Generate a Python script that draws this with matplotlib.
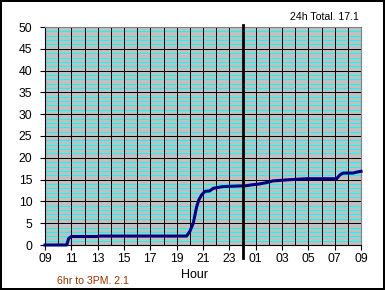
import matplotlib.pyplot as plt

plt.rcParams['font.family'] = ['Liberation Sans', 'DejaVu Sans']

# hours since 09:00, cumulative rain
hours = [0, 1.65, 1.8, 2.0, 4.0, 4.05, 10.75, 11.0, 11.26, 11.39, 11.52, 11.69,
         11.9, 12.15, 12.5, 12.78, 13.5, 15.3, 15.7, 16.3, 16.95, 17.3, 18.45,
         19.85, 22.15, 22.4, 22.65, 23.4, 23.65, 24]
rain = [0, 0, 1.5, 1.95, 1.95, 2.05, 2.05, 3.1, 5.0, 6.9, 8.8, 10.4,
        11.5, 12.3, 12.4, 13.0, 13.4, 13.6, 13.8, 14.0, 14.4, 14.7, 14.95,
        15.2, 15.2, 16.1, 16.5, 16.5, 16.7, 16.9]

tick_pos = list(range(0, 25, 2))
tick_labels = ['09', '11', '13', '15', '17', '19', '21', '23',
               '01', '03', '05', '07', '09']
midnight = 15

fig = plt.figure(figsize=(3.85, 2.9), dpi=100)
fig.patch.set_edgecolor('black')
fig.patch.set_linewidth(1.5)
ax = fig.add_axes([45/385, 1-245/290, 316/385, 218/290])
ax.set_facecolor('#c0c0c0')

ax.set_xlim(0, 24)
ax.set_ylim(0, 50)
ax.set_xticks(tick_pos)
ax.set_xticklabels(tick_labels)
ax.set_yticks(range(0, 51, 5))

# grid: cyan every unit, black every 5 units and every hour
px = 0.72
for v in range(1, 50):
    if v % 5:
        ax.axhline(v, color='#00ffff', linewidth=px, zorder=0.5, antialiased=False)
for v in range(5, 50, 5):
    ax.axhline(v, color='black', linewidth=px, zorder=0.8, antialiased=False)
for h in range(1, 24):
    ax.axvline(h, color='black', linewidth=px, zorder=0.8, antialiased=False)

ax.tick_params(which='major', length=3.6, width=0.8, labelsize=8.8, direction='out')
ax.tick_params(axis='x', pad=2.5)
ax.tick_params(axis='y', pad=5.5)

for s in ['top', 'right']:
    ax.spines[s].set_color('#808080')
for s in ['left', 'bottom']:
    ax.spines[s].set_color('black')

ax.plot(hours, rain, color='#000080', linewidth=2.2, zorder=3, clip_on=False)
ax.axvline(midnight, ymin=-0.06, ymax=1.01, color='black', linewidth=2.0,
           clip_on=False, zorder=4)

fig.text(359/385, 1-17/290, '24h Total. 17.1', ha='right', va='center', fontsize=7.6)
fig.text(195/385, 1-275/290, 'Hour', ha='center', va='center', fontsize=9)
fig.text(57/385, 1-281/290, '6hr to 3PM. 2.1', ha='left', va='center',
         fontsize=7.6, color='#993300')

fig.savefig('out.png', dpi=100, edgecolor=fig.get_edgecolor())
